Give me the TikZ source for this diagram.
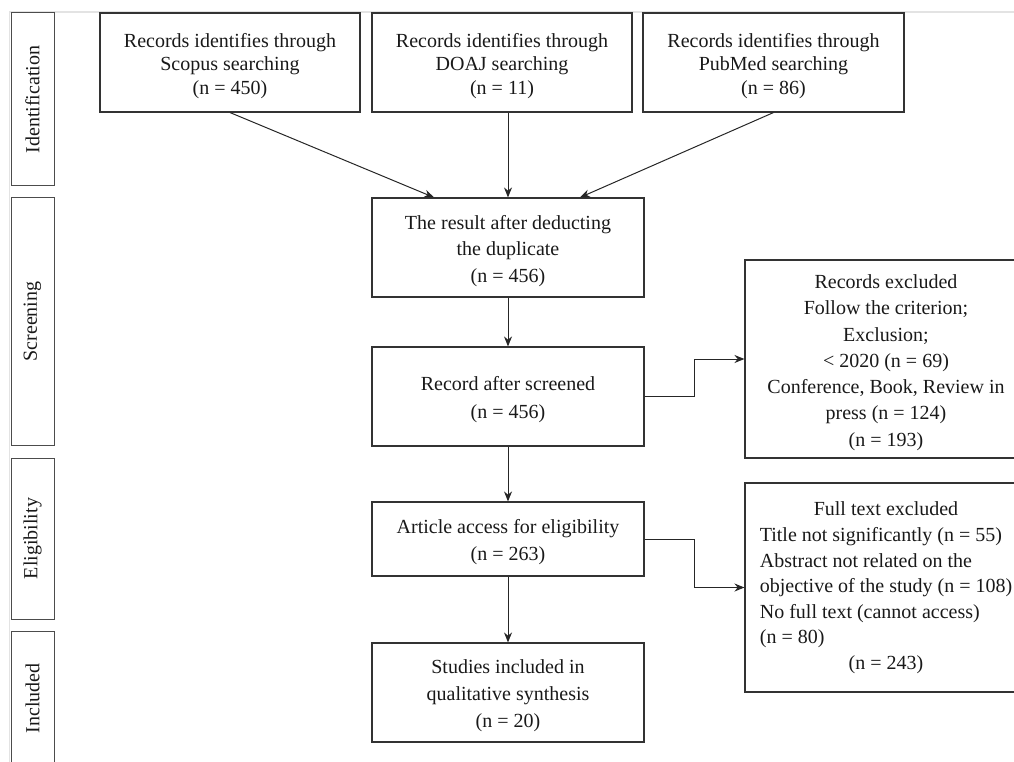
\documentclass[tikz,border=0pt]{standalone}
\usepackage{fontspec}
\setmainfont{Liberation Serif}
\usetikzlibrary{arrows.meta,calc}
\newcommand{\tstrut}{\rule{0pt}{21pt}}
\begin{document}
\begin{tikzpicture}[x=1pt,y=-1pt,
  box/.style={draw=black!80, line width=1.1pt, align=center, inner sep=0pt, text=black!90},
  phase/.style={draw=black!70, line width=1pt, rotate=90, inner sep=0pt, text=black!90,
     minimum height=43pt, font=\fontsize{20}{24}\selectfont},
  arr/.style={draw=black!85, line width=1pt, -{Stealth[length=10pt,width=8pt]}}]
\useasboundingbox (0,0) rectangle (1014,762);
\clip (0,0) rectangle (1014,762);
% faint page guides
\draw[gray!22, line width=1.2pt] (9.5,762) -- (9.5,12) -- (1014,12);
% phase labels
\node[phase, minimum width=173pt] (pid) at (32.5,99.5) {Identification};
\node[phase, minimum width=247pt] (pscr) at (32.5,321.5) {Screening};
\node[phase, minimum width=161pt] (pel) at (32.5,538.5) {Eligibility};
\node[phase, minimum width=135pt] (pinc) at (32.5,698.5) {Included};
% top sources
\node[box, minimum width=260pt, minimum height=99pt, font=\fontsize{20}{23.5}\selectfont] (scopus) at (230,62.5)
  {\tstrut Records identifies through\\Scopus searching\\(n = 450)};
\node[box, minimum width=260pt, minimum height=99pt, font=\fontsize{20}{23.5}\selectfont] (doaj) at (502,62.5)
  {\tstrut Records identifies through\\DOAJ searching\\(n = 11)};
\node[box, minimum width=261pt, minimum height=99pt, font=\fontsize{20}{23.5}\selectfont] (pubmed) at (773.5,62.5)
  {\tstrut Records identifies through\\PubMed searching\\(n = 86)};
% main column
\node[box, minimum width=272pt, minimum height=99pt, font=\fontsize{20}{26.5}\selectfont] (res) at (508,247.5)
  {\tstrut The result after deducting\\the duplicate\\(n = 456)};
\node[box, minimum width=272pt, minimum height=99pt, font=\fontsize{20}{28}\selectfont] (scr) at (508,396.5)
  {\tstrut Record after screened\\(n = 456)};
\node[box, minimum width=272pt, minimum height=74pt, font=\fontsize{20}{27}\selectfont] (art) at (508,539)
  {\tstrut Article access for eligibility\\(n = 263)};
\node[box, minimum width=272pt, minimum height=99pt, font=\fontsize{20}{27}\selectfont] (inc) at (508,692.5)
  {\tstrut Studies included in\\qualitative synthesis\\(n = 20)};
% exclusion boxes
\node[box, minimum width=282pt, minimum height=198pt, font=\fontsize{20}{26.3}\selectfont] (rexcl) at (886,359)
  {\tstrut Records excluded\\Follow the criterion;\\Exclusion;\\< 2020 (n = 69)\\Conference, Book, Review in\\press (n = 124)\\(n = 193)};
\node[box, minimum width=282pt, minimum height=209pt, font=\fontsize{20}{25.6}\selectfont] (rfull) at (886,587.5)
  {\begin{tabular}{@{}l@{}}
   \multicolumn{1}{@{}c@{}}{Full text excluded}\\
   Title not significantly (n = 55)\\
   Abstract not related on the\\
   objective of the study (n = 108)\\
   No full text (cannot access)\\
   (n = 80)\\
   \multicolumn{1}{@{}c@{}}{(n = 243)}
   \end{tabular}};
% connectors
\draw[arr] (scopus.south) -- ($(res.north)+(-74,0)$);
\draw[arr] (doaj.south -| res.north) -- (res.north);
\draw[arr] (pubmed.south) -- ($(res.north)+(72,0)$);
\draw[arr] (res.south) -- (scr.north);
\draw[arr] (scr.south) -- (art.north);
\draw[arr] (art.south) -- (inc.north);
\draw[arr] (scr.east) -- ++(50,0) |- (rexcl.west);
\draw[arr] (art.east) -- ++(50,0) |- (rfull.west);
\end{tikzpicture}
\end{document}
